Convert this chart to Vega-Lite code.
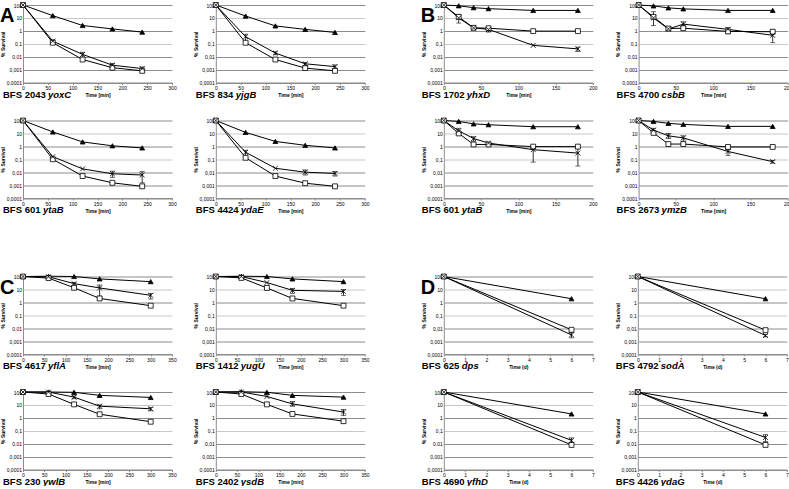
{
"$schema": "https://vega.github.io/schema/vega-lite/v6.json",
"padding": 0,
"background": "white",
"datasets": {
"d": [
{"p":"A1","s":"T","t":0,"v":100},{"p":"A1","s":"T","t":60,"v":15},{"p":"A1","s":"T","t":120,"v":2.6},{"p":"A1","s":"T","t":180,"v":1.4},{"p":"A1","s":"T","t":240,"v":0.8},
{"p":"A1","s":"S","t":0,"v":100},{"p":"A1","s":"S","t":60,"v":0.12},{"p":"A1","s":"S","t":120,"v":0.006},{"p":"A1","s":"S","t":180,"v":0.0014},{"p":"A1","s":"S","t":240,"v":0.0008},
{"p":"A1","s":"X","t":0,"v":100},{"p":"A1","s":"X","t":60,"v":0.16,"lo":0.12,"hi":0.2},{"p":"A1","s":"X","t":120,"v":0.015,"lo":0.009,"hi":0.022},{"p":"A1","s":"X","t":180,"v":0.0022,"lo":0.0017,"hi":0.003},{"p":"A1","s":"X","t":240,"v":0.0012,"lo":0.0008,"hi":0.0016},
{"p":"A1","k":"cap","c":"BFS 2043","g":"yoxC"},{"p":"A1","k":"let","l":"A"},
{"p":"A2","s":"T","t":0,"v":100},{"p":"A2","s":"T","t":60,"v":14},{"p":"A2","s":"T","t":120,"v":2.4},{"p":"A2","s":"T","t":180,"v":1.3},{"p":"A2","s":"T","t":240,"v":0.75},
{"p":"A2","s":"S","t":0,"v":100},{"p":"A2","s":"S","t":60,"v":0.12},{"p":"A2","s":"S","t":120,"v":0.006},{"p":"A2","s":"S","t":180,"v":0.0013},{"p":"A2","s":"S","t":240,"v":0.0008},
{"p":"A2","s":"X","t":0,"v":100},{"p":"A2","s":"X","t":60,"v":0.35,"lo":0.15,"hi":0.55},{"p":"A2","s":"X","t":120,"v":0.019,"lo":0.014,"hi":0.024},{"p":"A2","s":"X","t":180,"v":0.0028,"lo":0.002,"hi":0.0035},{"p":"A2","s":"X","t":240,"v":0.0017,"lo":0.0011,"hi":0.0023},
{"p":"A2","k":"cap","c":"BFS 834","g":"yjgB"},
{"p":"A3","s":"T","t":0,"v":100},{"p":"A3","s":"T","t":60,"v":13},{"p":"A3","s":"T","t":120,"v":2.2},{"p":"A3","s":"T","t":180,"v":1.1},{"p":"A3","s":"T","t":240,"v":0.75},
{"p":"A3","s":"S","t":0,"v":100},{"p":"A3","s":"S","t":60,"v":0.1},{"p":"A3","s":"S","t":120,"v":0.005},{"p":"A3","s":"S","t":180,"v":0.0015},{"p":"A3","s":"S","t":240,"v":0.0008,"lo":0.0006,"hi":0.001},
{"p":"A3","s":"X","t":0,"v":100},{"p":"A3","s":"X","t":60,"v":0.16},{"p":"A3","s":"X","t":120,"v":0.018},{"p":"A3","s":"X","t":180,"v":0.0075,"lo":0.004,"hi":0.012},{"p":"A3","s":"X","t":240,"v":0.006,"lo":0.0015,"hi":0.011},
{"p":"A3","k":"cap","c":"BFS 601","g":"ytaB"},
{"p":"A4","s":"T","t":0,"v":100},{"p":"A4","s":"T","t":60,"v":12},{"p":"A4","s":"T","t":120,"v":2.4},{"p":"A4","s":"T","t":180,"v":1.2},{"p":"A4","s":"T","t":240,"v":0.75},
{"p":"A4","s":"S","t":0,"v":100},{"p":"A4","s":"S","t":60,"v":0.13},{"p":"A4","s":"S","t":120,"v":0.005},{"p":"A4","s":"S","t":180,"v":0.0014},{"p":"A4","s":"S","t":240,"v":0.0008},
{"p":"A4","s":"X","t":0,"v":100},{"p":"A4","s":"X","t":60,"v":0.35,"lo":0.12,"hi":0.5},{"p":"A4","s":"X","t":120,"v":0.02},{"p":"A4","s":"X","t":180,"v":0.01,"lo":0.006,"hi":0.015},{"p":"A4","s":"X","t":240,"v":0.008,"lo":0.005,"hi":0.011},
{"p":"A4","k":"cap","c":"BFS 4424","g":"ydaE"},
{"p":"B1","s":"T","t":0,"v":100},{"p":"B1","s":"T","t":20,"v":87},{"p":"B1","s":"T","t":40,"v":62},{"p":"B1","s":"T","t":60,"v":52},{"p":"B1","s":"T","t":120,"v":38},{"p":"B1","s":"T","t":180,"v":38},
{"p":"B1","s":"S","t":0,"v":100},{"p":"B1","s":"S","t":20,"v":12},{"p":"B1","s":"S","t":40,"v":1.7},{"p":"B1","s":"S","t":60,"v":1.6},{"p":"B1","s":"S","t":120,"v":0.95},{"p":"B1","s":"S","t":180,"v":0.95},
{"p":"B1","s":"X","t":0,"v":100},{"p":"B1","s":"X","t":20,"v":10,"lo":4,"hi":19},{"p":"B1","s":"X","t":40,"v":1.7},{"p":"B1","s":"X","t":60,"v":1.3,"lo":0.8,"hi":2},{"p":"B1","s":"X","t":120,"v":0.075},{"p":"B1","s":"X","t":180,"v":0.04,"lo":0.025,"hi":0.055},
{"p":"B1","k":"cap","c":"BFS 1702","g":"yhxD"},{"p":"B1","k":"let","l":"B"},
{"p":"B2","s":"T","t":0,"v":100},{"p":"B2","s":"T","t":20,"v":85},{"p":"B2","s":"T","t":40,"v":60},{"p":"B2","s":"T","t":60,"v":50},{"p":"B2","s":"T","t":120,"v":38},{"p":"B2","s":"T","t":180,"v":38},
{"p":"B2","s":"S","t":0,"v":100},{"p":"B2","s":"S","t":20,"v":12},{"p":"B2","s":"S","t":40,"v":1.5},{"p":"B2","s":"S","t":60,"v":1.6},{"p":"B2","s":"S","t":120,"v":0.9,"lo":0.6,"hi":1.3},{"p":"B2","s":"S","t":180,"v":0.85,"lo":0.6,"hi":1.1},
{"p":"B2","s":"X","t":0,"v":100},{"p":"B2","s":"X","t":20,"v":10,"lo":2.5,"hi":30},{"p":"B2","s":"X","t":40,"v":1.4},{"p":"B2","s":"X","t":60,"v":3.3,"lo":2,"hi":5},{"p":"B2","s":"X","t":120,"v":1.3,"lo":0.8,"hi":1.8},{"p":"B2","s":"X","t":180,"v":0.45,"lo":0.12,"hi":0.9},
{"p":"B2","k":"cap","c":"BFS 4700","g":"csbB"},
{"p":"B3","s":"T","t":0,"v":100},{"p":"B3","s":"T","t":20,"v":85},{"p":"B3","s":"T","t":40,"v":55},{"p":"B3","s":"T","t":60,"v":47},{"p":"B3","s":"T","t":120,"v":33},{"p":"B3","s":"T","t":180,"v":33},
{"p":"B3","s":"S","t":0,"v":100},{"p":"B3","s":"S","t":20,"v":10},{"p":"B3","s":"S","t":40,"v":1.4},{"p":"B3","s":"S","t":60,"v":1.4},{"p":"B3","s":"S","t":120,"v":0.95},{"p":"B3","s":"S","t":180,"v":0.95},
{"p":"B3","s":"X","t":0,"v":100},{"p":"B3","s":"X","t":20,"v":16,"lo":9,"hi":25},{"p":"B3","s":"X","t":40,"v":4,"lo":2.5,"hi":5.5},{"p":"B3","s":"X","t":60,"v":1.8},{"p":"B3","s":"X","t":120,"v":0.55,"lo":0.06,"hi":1},{"p":"B3","s":"X","t":180,"v":0.3,"lo":0.03,"hi":0.7},
{"p":"B3","k":"cap","c":"BFS 601","g":"ytaB"},
{"p":"B4","s":"T","t":0,"v":100},{"p":"B4","s":"T","t":20,"v":85},{"p":"B4","s":"T","t":40,"v":60},{"p":"B4","s":"T","t":60,"v":50},{"p":"B4","s":"T","t":120,"v":35},{"p":"B4","s":"T","t":180,"v":35},
{"p":"B4","s":"S","t":0,"v":100},{"p":"B4","s":"S","t":20,"v":11},{"p":"B4","s":"S","t":40,"v":1.5},{"p":"B4","s":"S","t":60,"v":1.5,"lo":1.1,"hi":2},{"p":"B4","s":"S","t":120,"v":0.9,"lo":0.7,"hi":1.2},{"p":"B4","s":"S","t":180,"v":0.9,"lo":0.7,"hi":1.1},
{"p":"B4","s":"X","t":0,"v":100},{"p":"B4","s":"X","t":20,"v":18,"lo":13,"hi":25},{"p":"B4","s":"X","t":40,"v":6.5,"lo":4,"hi":10},{"p":"B4","s":"X","t":60,"v":4.5,"lo":2.5,"hi":6.5},{"p":"B4","s":"X","t":120,"v":0.4,"lo":0.2,"hi":0.6},{"p":"B4","s":"X","t":180,"v":0.065,"lo":0.05,"hi":0.08},
{"p":"B4","k":"cap","c":"BFS 2673","g":"ymzB"},
{"p":"C1","s":"T","t":0,"v":100},{"p":"C1","s":"T","t":60,"v":105},{"p":"C1","s":"T","t":120,"v":100},{"p":"C1","s":"T","t":180,"v":65},{"p":"C1","s":"T","t":300,"v":40},
{"p":"C1","s":"S","t":0,"v":100},{"p":"C1","s":"S","t":60,"v":75},{"p":"C1","s":"S","t":120,"v":13.5},{"p":"C1","s":"S","t":180,"v":2},{"p":"C1","s":"S","t":300,"v":0.55},
{"p":"C1","s":"X","t":0,"v":100},{"p":"C1","s":"X","t":60,"v":95},{"p":"C1","s":"X","t":120,"v":28,"lo":20,"hi":35},{"p":"C1","s":"X","t":180,"v":13,"lo":3,"hi":22},{"p":"C1","s":"X","t":300,"v":3.5,"lo":1.8,"hi":5},
{"p":"C1","k":"cap","c":"BFS 4617","g":"yflA"},{"p":"C1","k":"let","l":"C"},
{"p":"C2","s":"T","t":0,"v":100},{"p":"C2","s":"T","t":60,"v":105},{"p":"C2","s":"T","t":120,"v":100},{"p":"C2","s":"T","t":180,"v":65},{"p":"C2","s":"T","t":300,"v":40},
{"p":"C2","s":"S","t":0,"v":100},{"p":"C2","s":"S","t":60,"v":78},{"p":"C2","s":"S","t":120,"v":13},{"p":"C2","s":"S","t":180,"v":2},{"p":"C2","s":"S","t":300,"v":0.55},
{"p":"C2","s":"X","t":0,"v":100},{"p":"C2","s":"X","t":60,"v":100},{"p":"C2","s":"X","t":120,"v":34},{"p":"C2","s":"X","t":180,"v":8.5,"lo":5,"hi":12},{"p":"C2","s":"X","t":300,"v":7,"lo":3.5,"hi":10},
{"p":"C2","k":"cap","c":"BFS 1412","g":"yugU"},
{"p":"C3","s":"T","t":0,"v":100},{"p":"C3","s":"T","t":60,"v":100},{"p":"C3","s":"T","t":120,"v":95},{"p":"C3","s":"T","t":180,"v":55},{"p":"C3","s":"T","t":300,"v":38},
{"p":"C3","s":"S","t":0,"v":100},{"p":"C3","s":"S","t":60,"v":70},{"p":"C3","s":"S","t":120,"v":11},{"p":"C3","s":"S","t":180,"v":1.9},{"p":"C3","s":"S","t":300,"v":0.5},
{"p":"C3","s":"X","t":0,"v":100},{"p":"C3","s":"X","t":60,"v":100},{"p":"C3","s":"X","t":120,"v":40,"lo":30,"hi":50},{"p":"C3","s":"X","t":180,"v":8,"lo":5,"hi":10},{"p":"C3","s":"X","t":300,"v":5,"lo":3.5,"hi":6.5},
{"p":"C3","k":"cap","c":"BFS 230","g":"ywlB"},
{"p":"C4","s":"T","t":0,"v":100},{"p":"C4","s":"T","t":60,"v":105},{"p":"C4","s":"T","t":120,"v":95},{"p":"C4","s":"T","t":180,"v":55},{"p":"C4","s":"T","t":300,"v":40},
{"p":"C4","s":"S","t":0,"v":100},{"p":"C4","s":"S","t":60,"v":70},{"p":"C4","s":"S","t":120,"v":11},{"p":"C4","s":"S","t":180,"v":2},{"p":"C4","s":"S","t":300,"v":0.55,"lo":0.4,"hi":0.7},
{"p":"C4","s":"X","t":0,"v":100},{"p":"C4","s":"X","t":60,"v":100},{"p":"C4","s":"X","t":120,"v":45},{"p":"C4","s":"X","t":180,"v":12,"lo":8,"hi":18},{"p":"C4","s":"X","t":300,"v":2.8,"lo":1.5,"hi":4.5},
{"p":"C4","k":"cap","c":"BFS 2402","g":"ysdB"},
{"p":"D1","s":"T","t":0,"v":100},{"p":"D1","s":"T","t":6,"v":1.9},
{"p":"D1","s":"S","t":0,"v":100},{"p":"D1","s":"S","t":6,"v":0.0075},
{"p":"D1","s":"X","t":0,"v":100},{"p":"D1","s":"X","t":6,"v":0.003,"lo":0.0018,"hi":0.0045},
{"p":"D1","k":"cap","c":"BFS 625","g":"dps"},{"p":"D1","k":"let","l":"D"},
{"p":"D2","s":"T","t":0,"v":100},{"p":"D2","s":"T","t":6,"v":1.9},
{"p":"D2","s":"S","t":0,"v":100},{"p":"D2","s":"S","t":6,"v":0.007},
{"p":"D2","s":"X","t":0,"v":100},{"p":"D2","s":"X","t":6,"v":0.0027,"lo":0.0021,"hi":0.0033},
{"p":"D2","k":"cap","c":"BFS 4792","g":"sodA"},
{"p":"D3","s":"T","t":0,"v":100},{"p":"D3","s":"T","t":6,"v":2},
{"p":"D3","s":"S","t":0,"v":100},{"p":"D3","s":"S","t":6,"v":0.008},
{"p":"D3","s":"X","t":0,"v":100},{"p":"D3","s":"X","t":6,"v":0.018,"lo":0.011,"hi":0.028},
{"p":"D3","k":"cap","c":"BFS 4690","g":"yfhD"},
{"p":"D4","s":"T","t":0,"v":100},{"p":"D4","s":"T","t":6,"v":2},
{"p":"D4","s":"S","t":0,"v":100},{"p":"D4","s":"S","t":6,"v":0.008},
{"p":"D4","s":"X","t":0,"v":100},{"p":"D4","s":"X","t":6,"v":0.03,"lo":0.015,"hi":0.05},
{"p":"D4","k":"cap","c":"BFS 4426","g":"ydaG"}
]
},
"spacing": 56.5,
"vconcat": [
{"spacing": 51.8, "hconcat": [
 {"spacing": 16.5, "vconcat": [
  {"spacing": 15.8, "hconcat": [
   {"width": 149, "height": 77.5, "data": {"name": "d"}, "transform": [{"filter": "datum.p=='A1'"}],
    "encoding": {"x": {"field": "t", "type": "quantitative", "scale": {"domain": [0, 300], "nice": false}, "axis": {"values": [0,50,100,150,200,250,300], "title": "Time [min]"}},
                 "y": {"field": "v", "type": "quantitative", "scale": {"type": "log", "domain": [0.0001, 100]}, "axis": {"values": [0.0001,0.001,0.01,0.1,1,10,100], "title": "% Survival", "gridColor": {"condition": {"test": "datum.value==10||datum.value==0.1", "value": "#c8c8c8"}, "value": "#8c8c8c"}}}},
    "layer": [
     {"transform": [{"filter": "isValid(datum.v)"}], "mark": {"type": "line", "color": "#000", "strokeWidth": 1}, "encoding": {"detail": {"field": "s"}}},
     {"transform": [{"filter": "isValid(datum.lo)"}], "mark": {"type": "errorbar", "ticks": true, "color": "#000", "thickness": 0.8}, "encoding": {"y": {"field": "lo", "type": "quantitative"}, "y2": {"field": "hi"}}},
     {"transform": [{"filter": "isValid(datum.v)"}], "mark": {"type": "point", "filled": true, "stroke": "#000", "strokeWidth": 0.8, "size": 24, "opacity": 1}, "encoding": {"shape": {"field": "s", "legend": null}, "fill": {"field": "s", "legend": null}}},
     {"transform": [{"filter": "datum.k=='cap'"}], "mark": {"type": "text", "align": "left", "baseline": "middle", "dx": -20, "dy": 12, "fontWeight": "bold", "fontSize": 9.5, "font": "Liberation Sans", "color": "#000"}, "encoding": {"x": {"datum": 0.001, "type": "quantitative"}, "y": {"datum": 0.0001, "type": "quantitative"}, "text": {"field": "c", "type": "nominal"}}},
     {"transform": [{"filter": "datum.k=='cap'"}], "mark": {"type": "text", "align": "left", "baseline": "middle", "dx": 25, "dy": 12, "fontWeight": "bold", "fontStyle": "italic", "fontSize": 9.5, "font": "Liberation Sans", "color": "#000"}, "encoding": {"x": {"datum": 0.001, "type": "quantitative"}, "y": {"datum": 0.0001, "type": "quantitative"}, "text": {"field": "g", "type": "nominal"}}},
     {"transform": [{"filter": "datum.k=='let'"}], "mark": {"type": "text", "align": "left", "baseline": "top", "dx": -23, "dy": 1, "fontWeight": "bold", "fontSize": 20, "font": "Liberation Sans", "color": "#000"}, "encoding": {"x": {"datum": 0.001, "type": "quantitative"}, "y": {"value": 0}, "text": {"field": "l", "type": "nominal"}}}
    ]},
   {"width": 149, "height": 77.5, "data": {"name": "d"}, "transform": [{"filter": "datum.p=='A2'"}],
    "encoding": {"x": {"field": "t", "type": "quantitative", "scale": {"domain": [0, 300], "nice": false}, "axis": {"values": [0,50,100,150,200,250,300], "title": "Time [min]"}},
                 "y": {"field": "v", "type": "quantitative", "scale": {"type": "log", "domain": [0.0001, 100]}, "axis": {"values": [0.0001,0.001,0.01,0.1,1,10,100], "title": "% Survival", "gridColor": {"condition": {"test": "datum.value==10||datum.value==0.1", "value": "#c8c8c8"}, "value": "#8c8c8c"}}}},
    "layer": [
     {"transform": [{"filter": "isValid(datum.v)"}], "mark": {"type": "line", "color": "#000", "strokeWidth": 1}, "encoding": {"detail": {"field": "s"}}},
     {"transform": [{"filter": "isValid(datum.lo)"}], "mark": {"type": "errorbar", "ticks": true, "color": "#000", "thickness": 0.8}, "encoding": {"y": {"field": "lo", "type": "quantitative"}, "y2": {"field": "hi"}}},
     {"transform": [{"filter": "isValid(datum.v)"}], "mark": {"type": "point", "filled": true, "stroke": "#000", "strokeWidth": 0.8, "size": 24, "opacity": 1}, "encoding": {"shape": {"field": "s", "legend": null}, "fill": {"field": "s", "legend": null}}},
     {"transform": [{"filter": "datum.k=='cap'"}], "mark": {"type": "text", "align": "left", "baseline": "middle", "dx": -20, "dy": 12, "fontWeight": "bold", "fontSize": 9.5, "font": "Liberation Sans", "color": "#000"}, "encoding": {"x": {"datum": 0.001, "type": "quantitative"}, "y": {"datum": 0.0001, "type": "quantitative"}, "text": {"field": "c", "type": "nominal"}}},
     {"transform": [{"filter": "datum.k=='cap'"}], "mark": {"type": "text", "align": "left", "baseline": "middle", "dx": 20, "dy": 12, "fontWeight": "bold", "fontStyle": "italic", "fontSize": 9.5, "font": "Liberation Sans", "color": "#000"}, "encoding": {"x": {"datum": 0.001, "type": "quantitative"}, "y": {"datum": 0.0001, "type": "quantitative"}, "text": {"field": "g", "type": "nominal"}}}
    ]}
  ]},
  {"spacing": 15.8, "hconcat": [
   {"width": 149, "height": 77.5, "data": {"name": "d"}, "transform": [{"filter": "datum.p=='A3'"}],
    "encoding": {"x": {"field": "t", "type": "quantitative", "scale": {"domain": [0, 300], "nice": false}, "axis": {"values": [0,50,100,150,200,250,300], "title": "Time [min]"}},
                 "y": {"field": "v", "type": "quantitative", "scale": {"type": "log", "domain": [0.0001, 100]}, "axis": {"values": [0.0001,0.001,0.01,0.1,1,10,100], "title": "% Survival", "gridColor": {"condition": {"test": "datum.value==10||datum.value==0.1", "value": "#c8c8c8"}, "value": "#8c8c8c"}}}},
    "layer": [
     {"transform": [{"filter": "isValid(datum.v)"}], "mark": {"type": "line", "color": "#000", "strokeWidth": 1}, "encoding": {"detail": {"field": "s"}}},
     {"transform": [{"filter": "isValid(datum.lo)"}], "mark": {"type": "errorbar", "ticks": true, "color": "#000", "thickness": 0.8}, "encoding": {"y": {"field": "lo", "type": "quantitative"}, "y2": {"field": "hi"}}},
     {"transform": [{"filter": "isValid(datum.v)"}], "mark": {"type": "point", "filled": true, "stroke": "#000", "strokeWidth": 0.8, "size": 24, "opacity": 1}, "encoding": {"shape": {"field": "s", "legend": null}, "fill": {"field": "s", "legend": null}}},
     {"transform": [{"filter": "datum.k=='cap'"}], "mark": {"type": "text", "align": "left", "baseline": "middle", "dx": -20, "dy": 12, "fontWeight": "bold", "fontSize": 9.5, "font": "Liberation Sans", "color": "#000"}, "encoding": {"x": {"datum": 0.001, "type": "quantitative"}, "y": {"datum": 0.0001, "type": "quantitative"}, "text": {"field": "c", "type": "nominal"}}},
     {"transform": [{"filter": "datum.k=='cap'"}], "mark": {"type": "text", "align": "left", "baseline": "middle", "dx": 20, "dy": 12, "fontWeight": "bold", "fontStyle": "italic", "fontSize": 9.5, "font": "Liberation Sans", "color": "#000"}, "encoding": {"x": {"datum": 0.001, "type": "quantitative"}, "y": {"datum": 0.0001, "type": "quantitative"}, "text": {"field": "g", "type": "nominal"}}}
    ]},
   {"width": 149, "height": 77.5, "data": {"name": "d"}, "transform": [{"filter": "datum.p=='A4'"}],
    "encoding": {"x": {"field": "t", "type": "quantitative", "scale": {"domain": [0, 300], "nice": false}, "axis": {"values": [0,50,100,150,200,250,300], "title": "Time [min]"}},
                 "y": {"field": "v", "type": "quantitative", "scale": {"type": "log", "domain": [0.0001, 100]}, "axis": {"values": [0.0001,0.001,0.01,0.1,1,10,100], "title": "% Survival", "gridColor": {"condition": {"test": "datum.value==10||datum.value==0.1", "value": "#c8c8c8"}, "value": "#8c8c8c"}}}},
    "layer": [
     {"transform": [{"filter": "isValid(datum.v)"}], "mark": {"type": "line", "color": "#000", "strokeWidth": 1}, "encoding": {"detail": {"field": "s"}}},
     {"transform": [{"filter": "isValid(datum.lo)"}], "mark": {"type": "errorbar", "ticks": true, "color": "#000", "thickness": 0.8}, "encoding": {"y": {"field": "lo", "type": "quantitative"}, "y2": {"field": "hi"}}},
     {"transform": [{"filter": "isValid(datum.v)"}], "mark": {"type": "point", "filled": true, "stroke": "#000", "strokeWidth": 0.8, "size": 24, "opacity": 1}, "encoding": {"shape": {"field": "s", "legend": null}, "fill": {"field": "s", "legend": null}}},
     {"transform": [{"filter": "datum.k=='cap'"}], "mark": {"type": "text", "align": "left", "baseline": "middle", "dx": -20, "dy": 12, "fontWeight": "bold", "fontSize": 9.5, "font": "Liberation Sans", "color": "#000"}, "encoding": {"x": {"datum": 0.001, "type": "quantitative"}, "y": {"datum": 0.0001, "type": "quantitative"}, "text": {"field": "c", "type": "nominal"}}},
     {"transform": [{"filter": "datum.k=='cap'"}], "mark": {"type": "text", "align": "left", "baseline": "middle", "dx": 25, "dy": 12, "fontWeight": "bold", "fontStyle": "italic", "fontSize": 9.5, "font": "Liberation Sans", "color": "#000"}, "encoding": {"x": {"datum": 0.001, "type": "quantitative"}, "y": {"datum": 0.0001, "type": "quantitative"}, "text": {"field": "g", "type": "nominal"}}}
    ]}
  ]}
 ]},
 {"spacing": 16.5, "vconcat": [
  {"spacing": 17.8, "hconcat": [
   {"width": 149, "height": 77.5, "data": {"name": "d"}, "transform": [{"filter": "datum.p=='B1'"}],
    "encoding": {"x": {"field": "t", "type": "quantitative", "scale": {"domain": [0, 200], "nice": false}, "axis": {"values": [0,50,100,150,200], "title": "Time [min]"}},
                 "y": {"field": "v", "type": "quantitative", "scale": {"type": "log", "domain": [0.0001, 100]}, "axis": {"values": [0.0001,0.001,0.01,0.1,1,10,100], "title": "% Survival", "gridColor": {"condition": {"test": "datum.value==10||datum.value==0.1", "value": "#c8c8c8"}, "value": "#8c8c8c"}}}},
    "layer": [
     {"transform": [{"filter": "isValid(datum.v)"}], "mark": {"type": "line", "color": "#000", "strokeWidth": 1}, "encoding": {"detail": {"field": "s"}}},
     {"transform": [{"filter": "isValid(datum.lo)"}], "mark": {"type": "errorbar", "ticks": true, "color": "#000", "thickness": 0.8}, "encoding": {"y": {"field": "lo", "type": "quantitative"}, "y2": {"field": "hi"}}},
     {"transform": [{"filter": "isValid(datum.v)"}], "mark": {"type": "point", "filled": true, "stroke": "#000", "strokeWidth": 0.8, "size": 24, "opacity": 1}, "encoding": {"shape": {"field": "s", "legend": null}, "fill": {"field": "s", "legend": null}}},
     {"transform": [{"filter": "datum.k=='cap'"}], "mark": {"type": "text", "align": "left", "baseline": "middle", "dx": -22, "dy": 12, "fontWeight": "bold", "fontSize": 9.5, "font": "Liberation Sans", "color": "#000"}, "encoding": {"x": {"datum": 0.001, "type": "quantitative"}, "y": {"datum": 0.0001, "type": "quantitative"}, "text": {"field": "c", "type": "nominal"}}},
     {"transform": [{"filter": "datum.k=='cap'"}], "mark": {"type": "text", "align": "left", "baseline": "middle", "dx": 23, "dy": 12, "fontWeight": "bold", "fontStyle": "italic", "fontSize": 9.5, "font": "Liberation Sans", "color": "#000"}, "encoding": {"x": {"datum": 0.001, "type": "quantitative"}, "y": {"datum": 0.0001, "type": "quantitative"}, "text": {"field": "g", "type": "nominal"}}},
     {"transform": [{"filter": "datum.k=='let'"}], "mark": {"type": "text", "align": "left", "baseline": "top", "dx": -23, "dy": 1, "fontWeight": "bold", "fontSize": 20, "font": "Liberation Sans", "color": "#000"}, "encoding": {"x": {"datum": 0.001, "type": "quantitative"}, "y": {"value": 0}, "text": {"field": "l", "type": "nominal"}}}
    ]},
   {"width": 149, "height": 77.5, "data": {"name": "d"}, "transform": [{"filter": "datum.p=='B2'"}],
    "encoding": {"x": {"field": "t", "type": "quantitative", "scale": {"domain": [0, 200], "nice": false}, "axis": {"values": [0,50,100,150,200], "title": "Time [min]"}},
                 "y": {"field": "v", "type": "quantitative", "scale": {"type": "log", "domain": [0.0001, 100]}, "axis": {"values": [0.0001,0.001,0.01,0.1,1,10,100], "title": "% Survival", "gridColor": {"condition": {"test": "datum.value==10||datum.value==0.1", "value": "#c8c8c8"}, "value": "#8c8c8c"}}}},
    "layer": [
     {"transform": [{"filter": "isValid(datum.v)"}], "mark": {"type": "line", "color": "#000", "strokeWidth": 1}, "encoding": {"detail": {"field": "s"}}},
     {"transform": [{"filter": "isValid(datum.lo)"}], "mark": {"type": "errorbar", "ticks": true, "color": "#000", "thickness": 0.8}, "encoding": {"y": {"field": "lo", "type": "quantitative"}, "y2": {"field": "hi"}}},
     {"transform": [{"filter": "isValid(datum.v)"}], "mark": {"type": "point", "filled": true, "stroke": "#000", "strokeWidth": 0.8, "size": 24, "opacity": 1}, "encoding": {"shape": {"field": "s", "legend": null}, "fill": {"field": "s", "legend": null}}},
     {"transform": [{"filter": "datum.k=='cap'"}], "mark": {"type": "text", "align": "left", "baseline": "middle", "dx": -22, "dy": 12, "fontWeight": "bold", "fontSize": 9.5, "font": "Liberation Sans", "color": "#000"}, "encoding": {"x": {"datum": 0.001, "type": "quantitative"}, "y": {"datum": 0.0001, "type": "quantitative"}, "text": {"field": "c", "type": "nominal"}}},
     {"transform": [{"filter": "datum.k=='cap'"}], "mark": {"type": "text", "align": "left", "baseline": "middle", "dx": 23, "dy": 12, "fontWeight": "bold", "fontStyle": "italic", "fontSize": 9.5, "font": "Liberation Sans", "color": "#000"}, "encoding": {"x": {"datum": 0.001, "type": "quantitative"}, "y": {"datum": 0.0001, "type": "quantitative"}, "text": {"field": "g", "type": "nominal"}}}
    ]}
  ]},
  {"spacing": 17.8, "hconcat": [
   {"width": 149, "height": 77.5, "data": {"name": "d"}, "transform": [{"filter": "datum.p=='B3'"}],
    "encoding": {"x": {"field": "t", "type": "quantitative", "scale": {"domain": [0, 200], "nice": false}, "axis": {"values": [0,50,100,150,200], "title": "Time [min]"}},
                 "y": {"field": "v", "type": "quantitative", "scale": {"type": "log", "domain": [0.0001, 100]}, "axis": {"values": [0.0001,0.001,0.01,0.1,1,10,100], "title": "% Survival", "gridColor": {"condition": {"test": "datum.value==10||datum.value==0.1", "value": "#c8c8c8"}, "value": "#8c8c8c"}}}},
    "layer": [
     {"transform": [{"filter": "isValid(datum.v)"}], "mark": {"type": "line", "color": "#000", "strokeWidth": 1}, "encoding": {"detail": {"field": "s"}}},
     {"transform": [{"filter": "isValid(datum.lo)"}], "mark": {"type": "errorbar", "ticks": true, "color": "#000", "thickness": 0.8}, "encoding": {"y": {"field": "lo", "type": "quantitative"}, "y2": {"field": "hi"}}},
     {"transform": [{"filter": "isValid(datum.v)"}], "mark": {"type": "point", "filled": true, "stroke": "#000", "strokeWidth": 0.8, "size": 24, "opacity": 1}, "encoding": {"shape": {"field": "s", "legend": null}, "fill": {"field": "s", "legend": null}}},
     {"transform": [{"filter": "datum.k=='cap'"}], "mark": {"type": "text", "align": "left", "baseline": "middle", "dx": -22, "dy": 12, "fontWeight": "bold", "fontSize": 9.5, "font": "Liberation Sans", "color": "#000"}, "encoding": {"x": {"datum": 0.001, "type": "quantitative"}, "y": {"datum": 0.0001, "type": "quantitative"}, "text": {"field": "c", "type": "nominal"}}},
     {"transform": [{"filter": "datum.k=='cap'"}], "mark": {"type": "text", "align": "left", "baseline": "middle", "dx": 18, "dy": 12, "fontWeight": "bold", "fontStyle": "italic", "fontSize": 9.5, "font": "Liberation Sans", "color": "#000"}, "encoding": {"x": {"datum": 0.001, "type": "quantitative"}, "y": {"datum": 0.0001, "type": "quantitative"}, "text": {"field": "g", "type": "nominal"}}}
    ]},
   {"width": 149, "height": 77.5, "data": {"name": "d"}, "transform": [{"filter": "datum.p=='B4'"}],
    "encoding": {"x": {"field": "t", "type": "quantitative", "scale": {"domain": [0, 200], "nice": false}, "axis": {"values": [0,50,100,150,200], "title": "Time [min]"}},
                 "y": {"field": "v", "type": "quantitative", "scale": {"type": "log", "domain": [0.0001, 100]}, "axis": {"values": [0.0001,0.001,0.01,0.1,1,10,100], "title": "% Survival", "gridColor": {"condition": {"test": "datum.value==10||datum.value==0.1", "value": "#c8c8c8"}, "value": "#8c8c8c"}}}},
    "layer": [
     {"transform": [{"filter": "isValid(datum.v)"}], "mark": {"type": "line", "color": "#000", "strokeWidth": 1}, "encoding": {"detail": {"field": "s"}}},
     {"transform": [{"filter": "isValid(datum.lo)"}], "mark": {"type": "errorbar", "ticks": true, "color": "#000", "thickness": 0.8}, "encoding": {"y": {"field": "lo", "type": "quantitative"}, "y2": {"field": "hi"}}},
     {"transform": [{"filter": "isValid(datum.v)"}], "mark": {"type": "point", "filled": true, "stroke": "#000", "strokeWidth": 0.8, "size": 24, "opacity": 1}, "encoding": {"shape": {"field": "s", "legend": null}, "fill": {"field": "s", "legend": null}}},
     {"transform": [{"filter": "datum.k=='cap'"}], "mark": {"type": "text", "align": "left", "baseline": "middle", "dx": -22, "dy": 12, "fontWeight": "bold", "fontSize": 9.5, "font": "Liberation Sans", "color": "#000"}, "encoding": {"x": {"datum": 0.001, "type": "quantitative"}, "y": {"datum": 0.0001, "type": "quantitative"}, "text": {"field": "c", "type": "nominal"}}},
     {"transform": [{"filter": "datum.k=='cap'"}], "mark": {"type": "text", "align": "left", "baseline": "middle", "dx": 23, "dy": 12, "fontWeight": "bold", "fontStyle": "italic", "fontSize": 9.5, "font": "Liberation Sans", "color": "#000"}, "encoding": {"x": {"datum": 0.001, "type": "quantitative"}, "y": {"datum": 0.0001, "type": "quantitative"}, "text": {"field": "g", "type": "nominal"}}}
    ]}
  ]}
 ]}
]},
{"spacing": 51.8, "hconcat": [
 {"spacing": 16.5, "vconcat": [
  {"spacing": 15.8, "hconcat": [
   {"width": 149, "height": 77.5, "data": {"name": "d"}, "transform": [{"filter": "datum.p=='C1'"}],
    "encoding": {"x": {"field": "t", "type": "quantitative", "scale": {"domain": [0, 350], "nice": false}, "axis": {"values": [0,50,100,150,200,250,300,350], "title": "Time [min]"}},
                 "y": {"field": "v", "type": "quantitative", "scale": {"type": "log", "domain": [0.0001, 100]}, "axis": {"values": [0.0001,0.001,0.01,0.1,1,10,100], "title": "% Survival", "gridColor": {"condition": {"test": "datum.value==10||datum.value==0.1", "value": "#c8c8c8"}, "value": "#8c8c8c"}}}},
    "layer": [
     {"transform": [{"filter": "isValid(datum.v)"}], "mark": {"type": "line", "color": "#000", "strokeWidth": 1}, "encoding": {"detail": {"field": "s"}}},
     {"transform": [{"filter": "isValid(datum.lo)"}], "mark": {"type": "errorbar", "ticks": true, "color": "#000", "thickness": 0.8}, "encoding": {"y": {"field": "lo", "type": "quantitative"}, "y2": {"field": "hi"}}},
     {"transform": [{"filter": "isValid(datum.v)"}], "mark": {"type": "point", "filled": true, "stroke": "#000", "strokeWidth": 0.8, "size": 24, "opacity": 1}, "encoding": {"shape": {"field": "s", "legend": null}, "fill": {"field": "s", "legend": null}}},
     {"transform": [{"filter": "datum.k=='cap'"}], "mark": {"type": "text", "align": "left", "baseline": "middle", "dx": -20, "dy": 12, "fontWeight": "bold", "fontSize": 9.5, "font": "Liberation Sans", "color": "#000"}, "encoding": {"x": {"datum": 0.001, "type": "quantitative"}, "y": {"datum": 0.0001, "type": "quantitative"}, "text": {"field": "c", "type": "nominal"}}},
     {"transform": [{"filter": "datum.k=='cap'"}], "mark": {"type": "text", "align": "left", "baseline": "middle", "dx": 25, "dy": 12, "fontWeight": "bold", "fontStyle": "italic", "fontSize": 9.5, "font": "Liberation Sans", "color": "#000"}, "encoding": {"x": {"datum": 0.001, "type": "quantitative"}, "y": {"datum": 0.0001, "type": "quantitative"}, "text": {"field": "g", "type": "nominal"}}},
     {"transform": [{"filter": "datum.k=='let'"}], "mark": {"type": "text", "align": "left", "baseline": "top", "dx": -23, "dy": 1, "fontWeight": "bold", "fontSize": 20, "font": "Liberation Sans", "color": "#000"}, "encoding": {"x": {"datum": 0.001, "type": "quantitative"}, "y": {"value": 0}, "text": {"field": "l", "type": "nominal"}}}
    ]},
   {"width": 149, "height": 77.5, "data": {"name": "d"}, "transform": [{"filter": "datum.p=='C2'"}],
    "encoding": {"x": {"field": "t", "type": "quantitative", "scale": {"domain": [0, 350], "nice": false}, "axis": {"values": [0,50,100,150,200,250,300,350], "title": "Time [min]"}},
                 "y": {"field": "v", "type": "quantitative", "scale": {"type": "log", "domain": [0.0001, 100]}, "axis": {"values": [0.0001,0.001,0.01,0.1,1,10,100], "title": "% Survival", "gridColor": {"condition": {"test": "datum.value==10||datum.value==0.1", "value": "#c8c8c8"}, "value": "#8c8c8c"}}}},
    "layer": [
     {"transform": [{"filter": "isValid(datum.v)"}], "mark": {"type": "line", "color": "#000", "strokeWidth": 1}, "encoding": {"detail": {"field": "s"}}},
     {"transform": [{"filter": "isValid(datum.lo)"}], "mark": {"type": "errorbar", "ticks": true, "color": "#000", "thickness": 0.8}, "encoding": {"y": {"field": "lo", "type": "quantitative"}, "y2": {"field": "hi"}}},
     {"transform": [{"filter": "isValid(datum.v)"}], "mark": {"type": "point", "filled": true, "stroke": "#000", "strokeWidth": 0.8, "size": 24, "opacity": 1}, "encoding": {"shape": {"field": "s", "legend": null}, "fill": {"field": "s", "legend": null}}},
     {"transform": [{"filter": "datum.k=='cap'"}], "mark": {"type": "text", "align": "left", "baseline": "middle", "dx": -20, "dy": 12, "fontWeight": "bold", "fontSize": 9.5, "font": "Liberation Sans", "color": "#000"}, "encoding": {"x": {"datum": 0.001, "type": "quantitative"}, "y": {"datum": 0.0001, "type": "quantitative"}, "text": {"field": "c", "type": "nominal"}}},
     {"transform": [{"filter": "datum.k=='cap'"}], "mark": {"type": "text", "align": "left", "baseline": "middle", "dx": 25, "dy": 12, "fontWeight": "bold", "fontStyle": "italic", "fontSize": 9.5, "font": "Liberation Sans", "color": "#000"}, "encoding": {"x": {"datum": 0.001, "type": "quantitative"}, "y": {"datum": 0.0001, "type": "quantitative"}, "text": {"field": "g", "type": "nominal"}}}
    ]}
  ]},
  {"spacing": 15.8, "hconcat": [
   {"width": 149, "height": 77.5, "data": {"name": "d"}, "transform": [{"filter": "datum.p=='C3'"}],
    "encoding": {"x": {"field": "t", "type": "quantitative", "scale": {"domain": [0, 350], "nice": false}, "axis": {"values": [0,50,100,150,200,250,300,350], "title": "Time [min]"}},
                 "y": {"field": "v", "type": "quantitative", "scale": {"type": "log", "domain": [0.0001, 100]}, "axis": {"values": [0.0001,0.001,0.01,0.1,1,10,100], "title": "% Survival", "gridColor": {"condition": {"test": "datum.value==10||datum.value==0.1", "value": "#c8c8c8"}, "value": "#8c8c8c"}}}},
    "layer": [
     {"transform": [{"filter": "isValid(datum.v)"}], "mark": {"type": "line", "color": "#000", "strokeWidth": 1}, "encoding": {"detail": {"field": "s"}}},
     {"transform": [{"filter": "isValid(datum.lo)"}], "mark": {"type": "errorbar", "ticks": true, "color": "#000", "thickness": 0.8}, "encoding": {"y": {"field": "lo", "type": "quantitative"}, "y2": {"field": "hi"}}},
     {"transform": [{"filter": "isValid(datum.v)"}], "mark": {"type": "point", "filled": true, "stroke": "#000", "strokeWidth": 0.8, "size": 24, "opacity": 1}, "encoding": {"shape": {"field": "s", "legend": null}, "fill": {"field": "s", "legend": null}}},
     {"transform": [{"filter": "datum.k=='cap'"}], "mark": {"type": "text", "align": "left", "baseline": "middle", "dx": -20, "dy": 12, "fontWeight": "bold", "fontSize": 9.5, "font": "Liberation Sans", "color": "#000"}, "encoding": {"x": {"datum": 0.001, "type": "quantitative"}, "y": {"datum": 0.0001, "type": "quantitative"}, "text": {"field": "c", "type": "nominal"}}},
     {"transform": [{"filter": "datum.k=='cap'"}], "mark": {"type": "text", "align": "left", "baseline": "middle", "dx": 20, "dy": 12, "fontWeight": "bold", "fontStyle": "italic", "fontSize": 9.5, "font": "Liberation Sans", "color": "#000"}, "encoding": {"x": {"datum": 0.001, "type": "quantitative"}, "y": {"datum": 0.0001, "type": "quantitative"}, "text": {"field": "g", "type": "nominal"}}}
    ]},
   {"width": 149, "height": 77.5, "data": {"name": "d"}, "transform": [{"filter": "datum.p=='C4'"}],
    "encoding": {"x": {"field": "t", "type": "quantitative", "scale": {"domain": [0, 350], "nice": false}, "axis": {"values": [0,50,100,150,200,250,300,350], "title": "Time [min]"}},
                 "y": {"field": "v", "type": "quantitative", "scale": {"type": "log", "domain": [0.0001, 100]}, "axis": {"values": [0.0001,0.001,0.01,0.1,1,10,100], "title": "% Survival", "gridColor": {"condition": {"test": "datum.value==10||datum.value==0.1", "value": "#c8c8c8"}, "value": "#8c8c8c"}}}},
    "layer": [
     {"transform": [{"filter": "isValid(datum.v)"}], "mark": {"type": "line", "color": "#000", "strokeWidth": 1}, "encoding": {"detail": {"field": "s"}}},
     {"transform": [{"filter": "isValid(datum.lo)"}], "mark": {"type": "errorbar", "ticks": true, "color": "#000", "thickness": 0.8}, "encoding": {"y": {"field": "lo", "type": "quantitative"}, "y2": {"field": "hi"}}},
     {"transform": [{"filter": "isValid(datum.v)"}], "mark": {"type": "point", "filled": true, "stroke": "#000", "strokeWidth": 0.8, "size": 24, "opacity": 1}, "encoding": {"shape": {"field": "s", "legend": null}, "fill": {"field": "s", "legend": null}}},
     {"transform": [{"filter": "datum.k=='cap'"}], "mark": {"type": "text", "align": "left", "baseline": "middle", "dx": -20, "dy": 12, "fontWeight": "bold", "fontSize": 9.5, "font": "Liberation Sans", "color": "#000"}, "encoding": {"x": {"datum": 0.001, "type": "quantitative"}, "y": {"datum": 0.0001, "type": "quantitative"}, "text": {"field": "c", "type": "nominal"}}},
     {"transform": [{"filter": "datum.k=='cap'"}], "mark": {"type": "text", "align": "left", "baseline": "middle", "dx": 25, "dy": 12, "fontWeight": "bold", "fontStyle": "italic", "fontSize": 9.5, "font": "Liberation Sans", "color": "#000"}, "encoding": {"x": {"datum": 0.001, "type": "quantitative"}, "y": {"datum": 0.0001, "type": "quantitative"}, "text": {"field": "g", "type": "nominal"}}}
    ]}
  ]}
 ]},
 {"spacing": 16.5, "vconcat": [
  {"spacing": 20, "hconcat": [
   {"width": 149, "height": 77.5, "data": {"name": "d"}, "transform": [{"filter": "datum.p=='D1'"}],
    "encoding": {"x": {"field": "t", "type": "quantitative", "scale": {"domain": [0, 7], "nice": false}, "axis": {"values": [0,1,2,3,4,5,6,7], "title": "Time (d)"}},
                 "y": {"field": "v", "type": "quantitative", "scale": {"type": "log", "domain": [0.0001, 100]}, "axis": {"values": [0.0001,0.001,0.01,0.1,1,10,100], "title": "% Survival", "gridColor": {"condition": {"test": "datum.value==10||datum.value==0.1", "value": "#c8c8c8"}, "value": "#8c8c8c"}}}},
    "layer": [
     {"transform": [{"filter": "isValid(datum.v)"}], "mark": {"type": "line", "color": "#000", "strokeWidth": 1}, "encoding": {"detail": {"field": "s"}}},
     {"transform": [{"filter": "isValid(datum.lo)"}], "mark": {"type": "errorbar", "ticks": true, "color": "#000", "thickness": 0.8}, "encoding": {"y": {"field": "lo", "type": "quantitative"}, "y2": {"field": "hi"}}},
     {"transform": [{"filter": "isValid(datum.v)"}], "mark": {"type": "point", "filled": true, "stroke": "#000", "strokeWidth": 0.8, "size": 24, "opacity": 1}, "encoding": {"shape": {"field": "s", "legend": null}, "fill": {"field": "s", "legend": null}}},
     {"transform": [{"filter": "datum.k=='cap'"}], "mark": {"type": "text", "align": "left", "baseline": "middle", "dx": -22, "dy": 12, "fontWeight": "bold", "fontSize": 9.5, "font": "Liberation Sans", "color": "#000"}, "encoding": {"x": {"datum": 0.001, "type": "quantitative"}, "y": {"datum": 0.0001, "type": "quantitative"}, "text": {"field": "c", "type": "nominal"}}},
     {"transform": [{"filter": "datum.k=='cap'"}], "mark": {"type": "text", "align": "left", "baseline": "middle", "dx": 18, "dy": 12, "fontWeight": "bold", "fontStyle": "italic", "fontSize": 9.5, "font": "Liberation Sans", "color": "#000"}, "encoding": {"x": {"datum": 0.001, "type": "quantitative"}, "y": {"datum": 0.0001, "type": "quantitative"}, "text": {"field": "g", "type": "nominal"}}},
     {"transform": [{"filter": "datum.k=='let'"}], "mark": {"type": "text", "align": "left", "baseline": "top", "dx": -23, "dy": 1, "fontWeight": "bold", "fontSize": 20, "font": "Liberation Sans", "color": "#000"}, "encoding": {"x": {"datum": 0.001, "type": "quantitative"}, "y": {"value": 0}, "text": {"field": "l", "type": "nominal"}}}
    ]},
   {"width": 149, "height": 77.5, "data": {"name": "d"}, "transform": [{"filter": "datum.p=='D2'"}],
    "encoding": {"x": {"field": "t", "type": "quantitative", "scale": {"domain": [0, 7], "nice": false}, "axis": {"values": [0,1,2,3,4,5,6,7], "title": "Time (d)"}},
                 "y": {"field": "v", "type": "quantitative", "scale": {"type": "log", "domain": [0.0001, 100]}, "axis": {"values": [0.0001,0.001,0.01,0.1,1,10,100], "title": "% Survival", "gridColor": {"condition": {"test": "datum.value==10||datum.value==0.1", "value": "#c8c8c8"}, "value": "#8c8c8c"}}}},
    "layer": [
     {"transform": [{"filter": "isValid(datum.v)"}], "mark": {"type": "line", "color": "#000", "strokeWidth": 1}, "encoding": {"detail": {"field": "s"}}},
     {"transform": [{"filter": "isValid(datum.lo)"}], "mark": {"type": "errorbar", "ticks": true, "color": "#000", "thickness": 0.8}, "encoding": {"y": {"field": "lo", "type": "quantitative"}, "y2": {"field": "hi"}}},
     {"transform": [{"filter": "isValid(datum.v)"}], "mark": {"type": "point", "filled": true, "stroke": "#000", "strokeWidth": 0.8, "size": 24, "opacity": 1}, "encoding": {"shape": {"field": "s", "legend": null}, "fill": {"field": "s", "legend": null}}},
     {"transform": [{"filter": "datum.k=='cap'"}], "mark": {"type": "text", "align": "left", "baseline": "middle", "dx": -22, "dy": 12, "fontWeight": "bold", "fontSize": 9.5, "font": "Liberation Sans", "color": "#000"}, "encoding": {"x": {"datum": 0.001, "type": "quantitative"}, "y": {"datum": 0.0001, "type": "quantitative"}, "text": {"field": "c", "type": "nominal"}}},
     {"transform": [{"filter": "datum.k=='cap'"}], "mark": {"type": "text", "align": "left", "baseline": "middle", "dx": 23, "dy": 12, "fontWeight": "bold", "fontStyle": "italic", "fontSize": 9.5, "font": "Liberation Sans", "color": "#000"}, "encoding": {"x": {"datum": 0.001, "type": "quantitative"}, "y": {"datum": 0.0001, "type": "quantitative"}, "text": {"field": "g", "type": "nominal"}}}
    ]}
  ]},
  {"spacing": 20, "hconcat": [
   {"width": 149, "height": 77.5, "data": {"name": "d"}, "transform": [{"filter": "datum.p=='D3'"}],
    "encoding": {"x": {"field": "t", "type": "quantitative", "scale": {"domain": [0, 7], "nice": false}, "axis": {"values": [0,1,2,3,4,5,6,7], "title": "Time (d)"}},
                 "y": {"field": "v", "type": "quantitative", "scale": {"type": "log", "domain": [0.0001, 100]}, "axis": {"values": [0.0001,0.001,0.01,0.1,1,10,100], "title": "% Survival", "gridColor": {"condition": {"test": "datum.value==10||datum.value==0.1", "value": "#c8c8c8"}, "value": "#8c8c8c"}}}},
    "layer": [
     {"transform": [{"filter": "isValid(datum.v)"}], "mark": {"type": "line", "color": "#000", "strokeWidth": 1}, "encoding": {"detail": {"field": "s"}}},
     {"transform": [{"filter": "isValid(datum.lo)"}], "mark": {"type": "errorbar", "ticks": true, "color": "#000", "thickness": 0.8}, "encoding": {"y": {"field": "lo", "type": "quantitative"}, "y2": {"field": "hi"}}},
     {"transform": [{"filter": "isValid(datum.v)"}], "mark": {"type": "point", "filled": true, "stroke": "#000", "strokeWidth": 0.8, "size": 24, "opacity": 1}, "encoding": {"shape": {"field": "s", "legend": null}, "fill": {"field": "s", "legend": null}}},
     {"transform": [{"filter": "datum.k=='cap'"}], "mark": {"type": "text", "align": "left", "baseline": "middle", "dx": -22, "dy": 12, "fontWeight": "bold", "fontSize": 9.5, "font": "Liberation Sans", "color": "#000"}, "encoding": {"x": {"datum": 0.001, "type": "quantitative"}, "y": {"datum": 0.0001, "type": "quantitative"}, "text": {"field": "c", "type": "nominal"}}},
     {"transform": [{"filter": "datum.k=='cap'"}], "mark": {"type": "text", "align": "left", "baseline": "middle", "dx": 23, "dy": 12, "fontWeight": "bold", "fontStyle": "italic", "fontSize": 9.5, "font": "Liberation Sans", "color": "#000"}, "encoding": {"x": {"datum": 0.001, "type": "quantitative"}, "y": {"datum": 0.0001, "type": "quantitative"}, "text": {"field": "g", "type": "nominal"}}}
    ]},
   {"width": 149, "height": 77.5, "data": {"name": "d"}, "transform": [{"filter": "datum.p=='D4'"}],
    "encoding": {"x": {"field": "t", "type": "quantitative", "scale": {"domain": [0, 7], "nice": false}, "axis": {"values": [0,1,2,3,4,5,6,7], "title": "Time (d)"}},
                 "y": {"field": "v", "type": "quantitative", "scale": {"type": "log", "domain": [0.0001, 100]}, "axis": {"values": [0.0001,0.001,0.01,0.1,1,10,100], "title": "% Survival", "gridColor": {"condition": {"test": "datum.value==10||datum.value==0.1", "value": "#c8c8c8"}, "value": "#8c8c8c"}}}},
    "layer": [
     {"transform": [{"filter": "isValid(datum.v)"}], "mark": {"type": "line", "color": "#000", "strokeWidth": 1}, "encoding": {"detail": {"field": "s"}}},
     {"transform": [{"filter": "isValid(datum.lo)"}], "mark": {"type": "errorbar", "ticks": true, "color": "#000", "thickness": 0.8}, "encoding": {"y": {"field": "lo", "type": "quantitative"}, "y2": {"field": "hi"}}},
     {"transform": [{"filter": "isValid(datum.v)"}], "mark": {"type": "point", "filled": true, "stroke": "#000", "strokeWidth": 0.8, "size": 24, "opacity": 1}, "encoding": {"shape": {"field": "s", "legend": null}, "fill": {"field": "s", "legend": null}}},
     {"transform": [{"filter": "datum.k=='cap'"}], "mark": {"type": "text", "align": "left", "baseline": "middle", "dx": -22, "dy": 12, "fontWeight": "bold", "fontSize": 9.5, "font": "Liberation Sans", "color": "#000"}, "encoding": {"x": {"datum": 0.001, "type": "quantitative"}, "y": {"datum": 0.0001, "type": "quantitative"}, "text": {"field": "c", "type": "nominal"}}},
     {"transform": [{"filter": "datum.k=='cap'"}], "mark": {"type": "text", "align": "left", "baseline": "middle", "dx": 23, "dy": 12, "fontWeight": "bold", "fontStyle": "italic", "fontSize": 9.5, "font": "Liberation Sans", "color": "#000"}, "encoding": {"x": {"datum": 0.001, "type": "quantitative"}, "y": {"datum": 0.0001, "type": "quantitative"}, "text": {"field": "g", "type": "nominal"}}}
    ]}
  ]}
 ]}
]}
],
"config": {
 "view": {"stroke": null},
 "mark": {"invalid": null},
 "range": {"symbol": ["square", "triangle-up", "M-1,-1L1,1M-1,1L1,-1"], "category": ["#ffffff", "#000000", "#000000"]},
 "axis": {"labelFont": "Liberation Sans", "titleFont": "Liberation Sans", "labelFontSize": 5, "titleFontSize": 5, "titleFontWeight": "bold", "labelColor": "#000", "titleColor": "#000", "tickSize": 2, "tickColor": "#8c8c8c", "domainColor": "#8c8c8c", "labelPadding": 1, "titlePadding": 2, "labelFlush": false, "labelOverlap": false},
 "axisX": {"grid": false},
 "axisY": {"grid": true, "tickSize": 0, "labelPadding": 1.5, "titlePadding": 1, "labelExpr": "replace(toString(datum.value),'.',',')"}
}
}
